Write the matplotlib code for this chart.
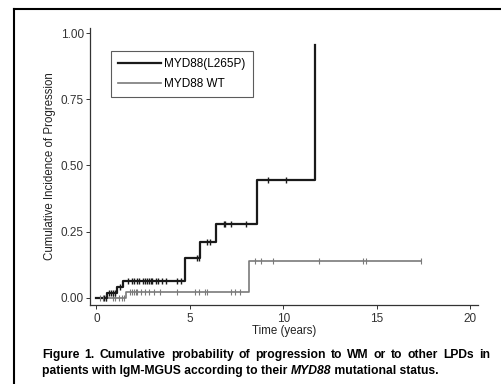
import numpy as np
import matplotlib
matplotlib.use("Agg")
import matplotlib.pyplot as plt
from matplotlib.lines import Line2D

plt.rcParams["font.family"] = ["Liberation Sans", "DejaVu Sans"]

# MYD88(L265P): step times / cumulative incidence
mut_t = [0, 0.59, 1.12, 1.41, 4.74, 5.54, 6.38, 8.58, 11.69]
mut_y = [0, 0.019, 0.039, 0.063, 0.151, 0.209, 0.279, 0.445, 0.955]
mut_cens = [0.4, 0.5, 0.7, 0.8, 0.9, 1.0, 1.25, 1.7, 1.9, 2.0, 2.2, 2.3, 2.5, 2.6, 2.7,
            2.8, 2.9, 3.0, 3.2, 3.3, 3.5, 3.7, 4.3, 4.5, 5.4, 5.5, 5.9, 6.08,
            6.8, 6.9, 7.2, 8.0, 9.19, 10.13]

# MYD88 WT
wt_t = [0, 1.6, 8.18, 17.35]
wt_y = [0, 0.023, 0.139, 0.139]
wt_cens = [0.2, 0.35, 0.5, 0.9, 1.0, 1.2, 1.35, 1.5, 1.8, 1.9, 2.0, 2.1, 2.2, 2.4, 2.6,
           2.8, 3.1, 3.4, 4.3, 5.3, 5.5, 5.8, 5.9, 7.2, 7.4, 7.7, 8.5, 8.8, 9.45,
           11.93, 14.25, 14.4, 17.35]

caption1 = "Figure 1. Cumulative probability of progression to WM or to other LPDs in"
caption2 = ["patients with IgM-MGUS according to their ", "MYD88", " mutational status."]


def step_value(t, times, vals):
    i = np.searchsorted(times, t, side="right") - 1
    return vals[i]


fig = plt.figure(figsize=(5.02, 3.84), dpi=100)
ax = fig.add_axes([90 / 502, 1 - 305 / 384, 388 / 502, 277 / 384])

blk = "#1a1a1a"
gry = "#7a7a7a"
ax.step(wt_t, wt_y, where="post", color=gry, lw=1.2)
ax.step(mut_t, mut_y, where="post", color=blk, lw=1.6)
ax.plot(wt_cens, [step_value(t, wt_t, wt_y) for t in wt_cens], ls="none",
        marker="|", ms=4, mew=0.8, color=gry)
mut_cy = [step_value(t, mut_t, mut_y) for t in mut_cens]
ax.plot(mut_cens, mut_cy, ls="none", marker="|", ms=4, mew=1.0, color=blk)

ax.set_xlim(-0.34, 20.41)
ax.set_ylim(-0.0276, 1.02)
ax.set_xticks([0, 5, 10, 15, 20])
ax.set_yticks([0, 0.25, 0.5, 0.75, 1.0])
ax.set_yticklabels(["0.00", "0.25", "0.50", "0.75", "1.00"])
for s in ["top", "right"]:
    ax.spines[s].set_visible(False)
for s in ["left", "bottom"]:
    ax.spines[s].set_color("#333333")
    ax.spines[s].set_linewidth(0.9)
ax.tick_params(labelsize=8.5, length=3, width=0.7, colors="#333333", pad=1.5)
ax.tick_params(axis="x", pad=2.5)
ax.set_xlabel("Time (years)", fontsize=8.3, labelpad=0, color="#222222")
ax.set_ylabel("Cumulative Incidence of Progression", fontsize=8.3, labelpad=3, color="#222222")

handles = [Line2D([], [], color=blk, lw=1.6), Line2D([], [], color=gry, lw=1.2)]
leg = ax.legend(handles, ["MYD88(L265P)", "MYD88 WT"], loc="upper left",
                bbox_to_anchor=((111 - 90) / 388, (305 - 51) / 277), fontsize=8.5,
                frameon=True, fancybox=False, edgecolor="#333333", handlelength=3.6,
                handletextpad=0.3, borderpad=0.6, labelspacing=0.7, borderaxespad=0)
leg.get_frame().set_linewidth(0.8)

# partial frame around figure (top and left)
fig.add_artist(Line2D([14.5 / 502, 14.5 / 502], [0, 1 - 9 / 384], color="black", lw=1.5,
                      transform=fig.transFigure))
fig.add_artist(Line2D([14.5 / 502, 1], [1 - 9 / 384, 1 - 9 / 384], color="black", lw=1.5,
                      transform=fig.transFigure))

fs_cap = 8.7
fig.canvas.draw()
r = fig.canvas.get_renderer()

# first caption line, justified between x=42 and x=490 px
words = caption1.split(" ")
arts = [fig.text(0, 1 - 355 / 384, w, fontsize=fs_cap, fontweight="bold",
                 va="center", ha="left") for w in words]
widths = [a.get_window_extent(renderer=r).width for a in arts]
gap = (490 - 42 - sum(widths)) / (len(words) - 1)
xp = 42.0
for a, w in zip(arts, widths):
    a.set_x(xp / 502)
    xp += w + gap

# second caption line with italic gene name
x = 42 / 502
for i, part in enumerate(caption2):
    t = fig.text(x, 1 - 371 / 384, part, fontsize=fs_cap, fontweight="bold",
                 style="italic" if i == 1 else "normal", va="center", ha="left")
    bb = t.get_window_extent(renderer=r)
    x += bb.width / fig.bbox.width

fig.savefig("out.png", dpi=100)
